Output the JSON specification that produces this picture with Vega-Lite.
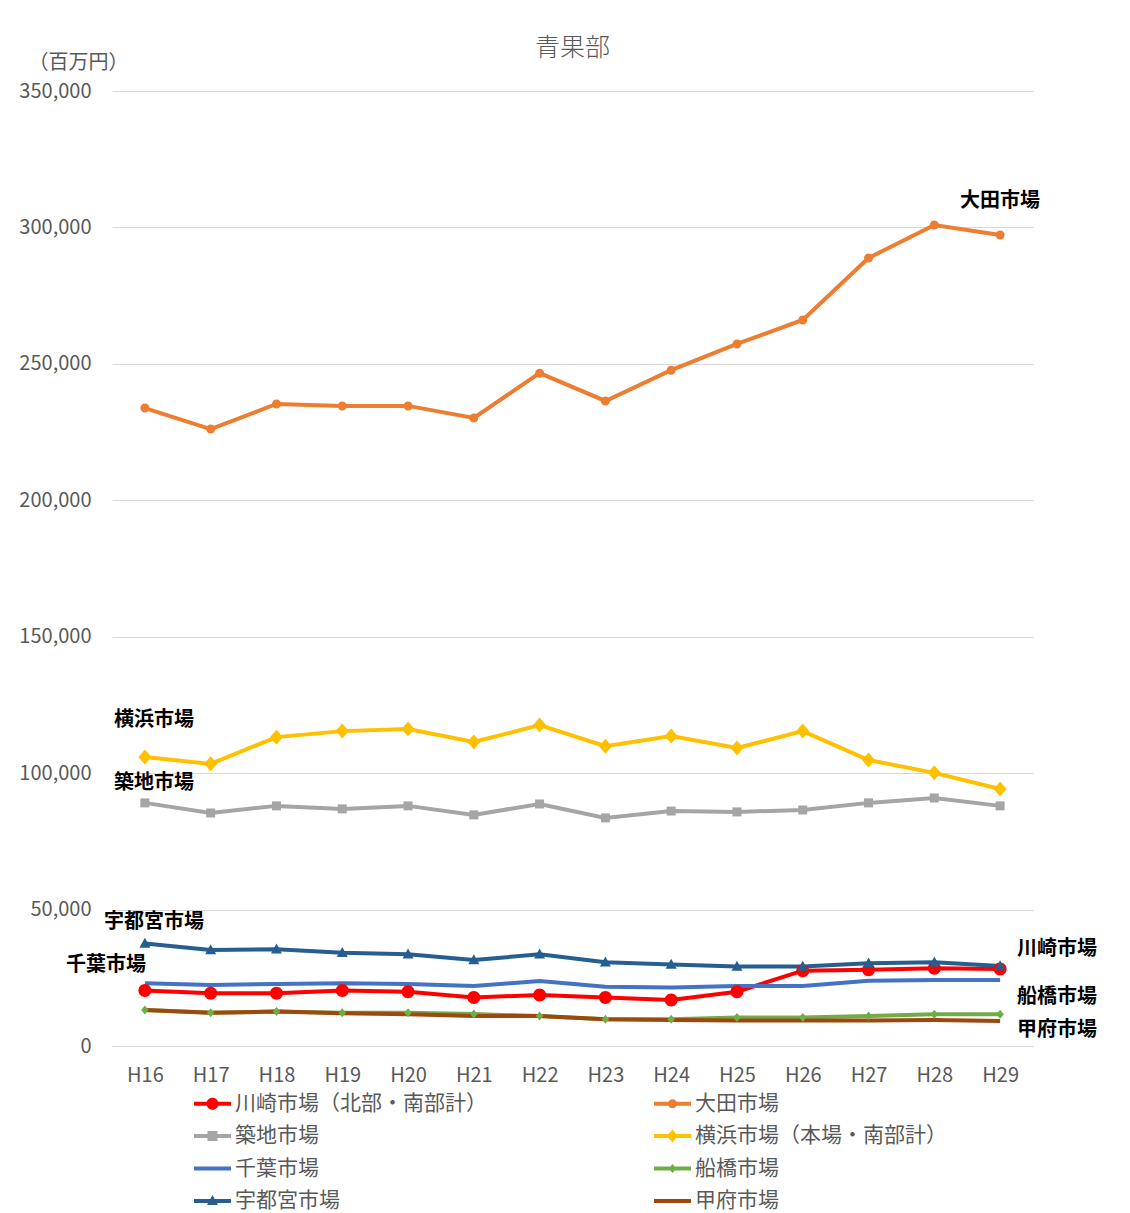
{
  "$schema": "https://vega.github.io/schema/vega-lite/v6.json",
  "width": 921,
  "height": 955,
  "autosize": {"type": "none"},
  "padding": {"left": 112, "top": 91, "right": 97, "bottom": 167},
  "background": "white",
  "title": {"text": "青果部", "fontSize": 25, "fontWeight": 300, "color": "#595959", "baseline": "middle", "offset": -21, "frame": "group"},
  "config": {"view": {"stroke": null}, "font": "Noto Sans CJK JP"},
  "datasets": {
    "main": [
      {"year": "H16", "series": "川崎市場（北部・南部計）", "value": 20300},
      {"year": "H17", "series": "川崎市場（北部・南部計）", "value": 19300},
      {"year": "H18", "series": "川崎市場（北部・南部計）", "value": 19300},
      {"year": "H19", "series": "川崎市場（北部・南部計）", "value": 20300},
      {"year": "H20", "series": "川崎市場（北部・南部計）", "value": 19900},
      {"year": "H21", "series": "川崎市場（北部・南部計）", "value": 17800},
      {"year": "H22", "series": "川崎市場（北部・南部計）", "value": 18700},
      {"year": "H23", "series": "川崎市場（北部・南部計）", "value": 17800},
      {"year": "H24", "series": "川崎市場（北部・南部計）", "value": 16900},
      {"year": "H25", "series": "川崎市場（北部・南部計）", "value": 19900},
      {"year": "H26", "series": "川崎市場（北部・南部計）", "value": 27600},
      {"year": "H27", "series": "川崎市場（北部・南部計）", "value": 27900},
      {"year": "H28", "series": "川崎市場（北部・南部計）", "value": 28500},
      {"year": "H29", "series": "川崎市場（北部・南部計）", "value": 28200},
      {"year": "H16", "series": "大田市場", "value": 233800},
      {"year": "H17", "series": "大田市場", "value": 226100},
      {"year": "H18", "series": "大田市場", "value": 235300},
      {"year": "H19", "series": "大田市場", "value": 234600},
      {"year": "H20", "series": "大田市場", "value": 234600},
      {"year": "H21", "series": "大田市場", "value": 230200},
      {"year": "H22", "series": "大田市場", "value": 246600},
      {"year": "H23", "series": "大田市場", "value": 236400},
      {"year": "H24", "series": "大田市場", "value": 247700},
      {"year": "H25", "series": "大田市場", "value": 257300},
      {"year": "H26", "series": "大田市場", "value": 266100},
      {"year": "H27", "series": "大田市場", "value": 288800},
      {"year": "H28", "series": "大田市場", "value": 300900},
      {"year": "H29", "series": "大田市場", "value": 297200},
      {"year": "H16", "series": "築地市場", "value": 89100},
      {"year": "H17", "series": "築地市場", "value": 85400},
      {"year": "H18", "series": "築地市場", "value": 88000},
      {"year": "H19", "series": "築地市場", "value": 86900},
      {"year": "H20", "series": "築地市場", "value": 88000},
      {"year": "H21", "series": "築地市場", "value": 84700},
      {"year": "H22", "series": "築地市場", "value": 88700},
      {"year": "H23", "series": "築地市場", "value": 83600},
      {"year": "H24", "series": "築地市場", "value": 86100},
      {"year": "H25", "series": "築地市場", "value": 85800},
      {"year": "H26", "series": "築地市場", "value": 86500},
      {"year": "H27", "series": "築地市場", "value": 89100},
      {"year": "H28", "series": "築地市場", "value": 90900},
      {"year": "H29", "series": "築地市場", "value": 88000},
      {"year": "H16", "series": "横浜市場（本場・南部計）", "value": 105900},
      {"year": "H17", "series": "横浜市場（本場・南部計）", "value": 103400},
      {"year": "H18", "series": "横浜市場（本場・南部計）", "value": 113200},
      {"year": "H19", "series": "横浜市場（本場・南部計）", "value": 115400},
      {"year": "H20", "series": "横浜市場（本場・南部計）", "value": 116200},
      {"year": "H21", "series": "横浜市場（本場・南部計）", "value": 111400},
      {"year": "H22", "series": "横浜市場（本場・南部計）", "value": 117600},
      {"year": "H23", "series": "横浜市場（本場・南部計）", "value": 109900},
      {"year": "H24", "series": "横浜市場（本場・南部計）", "value": 113600},
      {"year": "H25", "series": "横浜市場（本場・南部計）", "value": 109200},
      {"year": "H26", "series": "横浜市場（本場・南部計）", "value": 115400},
      {"year": "H27", "series": "横浜市場（本場・南部計）", "value": 104800},
      {"year": "H28", "series": "横浜市場（本場・南部計）", "value": 100100},
      {"year": "H29", "series": "横浜市場（本場・南部計）", "value": 94200},
      {"year": "H16", "series": "千葉市場", "value": 23000},
      {"year": "H17", "series": "千葉市場", "value": 22400},
      {"year": "H18", "series": "千葉市場", "value": 22700},
      {"year": "H19", "series": "千葉市場", "value": 23000},
      {"year": "H20", "series": "千葉市場", "value": 22700},
      {"year": "H21", "series": "千葉市場", "value": 22000},
      {"year": "H22", "series": "千葉市場", "value": 23800},
      {"year": "H23", "series": "千葉市場", "value": 21700},
      {"year": "H24", "series": "千葉市場", "value": 21400},
      {"year": "H25", "series": "千葉市場", "value": 22000},
      {"year": "H26", "series": "千葉市場", "value": 22000},
      {"year": "H27", "series": "千葉市場", "value": 23900},
      {"year": "H28", "series": "千葉市場", "value": 24200},
      {"year": "H29", "series": "千葉市場", "value": 24200},
      {"year": "H16", "series": "船橋市場", "value": 13200},
      {"year": "H17", "series": "船橋市場", "value": 12200},
      {"year": "H18", "series": "船橋市場", "value": 12600},
      {"year": "H19", "series": "船橋市場", "value": 12200},
      {"year": "H20", "series": "船橋市場", "value": 12200},
      {"year": "H21", "series": "船橋市場", "value": 11700},
      {"year": "H22", "series": "船橋市場", "value": 11000},
      {"year": "H23", "series": "船橋市場", "value": 9800},
      {"year": "H24", "series": "船橋市場", "value": 9800},
      {"year": "H25", "series": "船橋市場", "value": 10400},
      {"year": "H26", "series": "船橋市場", "value": 10400},
      {"year": "H27", "series": "船橋市場", "value": 11000},
      {"year": "H28", "series": "船橋市場", "value": 11600},
      {"year": "H29", "series": "船橋市場", "value": 11600},
      {"year": "H16", "series": "宇都宮市場", "value": 37600},
      {"year": "H17", "series": "宇都宮市場", "value": 35200},
      {"year": "H18", "series": "宇都宮市場", "value": 35500},
      {"year": "H19", "series": "宇都宮市場", "value": 34200},
      {"year": "H20", "series": "宇都宮市場", "value": 33600},
      {"year": "H21", "series": "宇都宮市場", "value": 31500},
      {"year": "H22", "series": "宇都宮市場", "value": 33600},
      {"year": "H23", "series": "宇都宮市場", "value": 30700},
      {"year": "H24", "series": "宇都宮市場", "value": 29900},
      {"year": "H25", "series": "宇都宮市場", "value": 29100},
      {"year": "H26", "series": "宇都宮市場", "value": 29100},
      {"year": "H27", "series": "宇都宮市場", "value": 30300},
      {"year": "H28", "series": "宇都宮市場", "value": 30700},
      {"year": "H29", "series": "宇都宮市場", "value": 29300},
      {"year": "H16", "series": "甲府市場", "value": 13200},
      {"year": "H17", "series": "甲府市場", "value": 12200},
      {"year": "H18", "series": "甲府市場", "value": 12600},
      {"year": "H19", "series": "甲府市場", "value": 12000},
      {"year": "H20", "series": "甲府市場", "value": 11600},
      {"year": "H21", "series": "甲府市場", "value": 11000},
      {"year": "H22", "series": "甲府市場", "value": 11000},
      {"year": "H23", "series": "甲府市場", "value": 9800},
      {"year": "H24", "series": "甲府市場", "value": 9500},
      {"year": "H25", "series": "甲府市場", "value": 9300},
      {"year": "H26", "series": "甲府市場", "value": 9300},
      {"year": "H27", "series": "甲府市場", "value": 9300},
      {"year": "H28", "series": "甲府市場", "value": 9500},
      {"year": "H29", "series": "甲府市場", "value": 9200}
    ],
    "labels": [
      {"label": "大田市場", "year": "H29", "value": 309700},
      {"label": "横浜市場", "year": "H16", "value": 119500},
      {"label": "築地市場", "year": "H16", "value": 96400},
      {"label": "宇都宮市場", "year": "H16", "value": 45400},
      {"label": "千葉市場", "year": "H16", "value": 29700},
      {"label": "川崎市場", "year": "H29", "value": 35500},
      {"label": "船橋市場", "year": "H29", "value": 18000},
      {"label": "甲府市場", "year": "H29", "value": 5900}
    ]
  },
  "data": {"name": "main"},
  "encoding": {
    "x": {
      "field": "year", "type": "ordinal",
      "scale": {"type": "point", "padding": 0.5},
      "axis": {"title": null, "labelAngle": 0, "ticks": false, "domain": false, "grid": false, "labelPadding": 19, "labelFontSize": 20, "labelColor": "#595959"}
    },
    "y": {
      "field": "value", "type": "quantitative",
      "scale": {"domain": [0, 350000], "nice": false, "zero": true},
      "axis": {
        "title": "（百万円）", "titleAngle": 0, "titleAlign": "left", "titleBaseline": "middle", "titleX": -84, "titleY": -29,
        "titleFontSize": 20, "titleFontWeight": "normal", "titleColor": "#595959",
        "values": [0, 50000, 100000, 150000, 200000, 250000, 300000, 350000], "format": ",d",
        "ticks": false, "domain": false, "grid": true, "gridColor": "#d9d9d9", "gridWidth": 1,
        "labelPadding": 21, "labelFontSize": 20, "labelColor": "#595959"
      }
    }
  },
  "layer": [
    {
      "mark": {"type": "line", "strokeWidth": 4},
      "encoding": {
        "color": {
          "field": "series", "type": "nominal",
          "scale": {
            "domain": ["川崎市場（北部・南部計）", "大田市場", "築地市場", "横浜市場（本場・南部計）", "千葉市場", "船橋市場", "宇都宮市場", "甲府市場"],
            "range": ["#FF0000", "#ED7D31", "#A5A5A5", "#FFC000", "#4472C4", "#70AD47", "#255E91", "#9E480E"]
          },
          "legend": null
        }
      }
    },
    {
      "transform": [{"filter": {"field": "series", "oneOf": ["川崎市場（北部・南部計）", "大田市場", "築地市場", "横浜市場（本場・南部計）", "船橋市場", "宇都宮市場"]}}],
      "mark": {"type": "point", "filled": true, "opacity": 1, "size": 100, "strokeWidth": 0},
      "encoding": {
        "color": {
          "field": "series", "type": "nominal",
          "scale": {
            "domain": ["川崎市場（北部・南部計）", "大田市場", "築地市場", "横浜市場（本場・南部計）", "船橋市場", "宇都宮市場"],
            "range": ["#FF0000", "#ED7D31", "#A5A5A5", "#FFC000", "#70AD47", "#255E91"]
          },
          "legend": null
        },
        "shape": {
          "field": "series", "type": "nominal",
          "scale": {
            "domain": ["川崎市場（北部・南部計）", "大田市場", "築地市場", "横浜市場（本場・南部計）", "船橋市場", "宇都宮市場"],
            "range": [
              "M-1.3,0A1.3,1.3 0 1,1 1.3,0A1.3,1.3 0 1,1 -1.3,0Z",
              "M-0.9,0A0.9,0.9 0 1,1 0.9,0A0.9,0.9 0 1,1 -0.9,0Z",
              "M-0.9,-0.9H0.9V0.9H-0.9Z",
              "M0,-1.5L1.3,0L0,1.5L-1.3,0Z",
              "M0,-0.9L0.75,0L0,0.9L-0.75,0Z",
              "M0,-1.15L1.1,0.85L-1.1,0.85Z"
            ]
          },
          "legend": null
        }
      }
    },
    {
      "transform": [{"filter": {"field": "series", "equal": "__none__"}}],
      "mark": {"type": "point", "filled": true, "opacity": 1},
      "encoding": {
        "color": {
          "field": "series", "type": "nominal",
          "scale": {
            "domain": ["川崎市場（北部・南部計）", "大田市場", "築地市場", "横浜市場（本場・南部計）", "千葉市場", "船橋市場", "宇都宮市場", "甲府市場"],
            "range": ["#FF0000", "#ED7D31", "#A5A5A5", "#FFC000", "#4472C4", "#70AD47", "#255E91", "#9E480E"]
          },
          "legend": {"title": null, "orient": "none", "direction": "horizontal", "legendX": 90, "legendY": 1002, "columns": 2, "columnPadding": 167, "rowPadding": 10.5, "symbolSize": 400, "symbolStrokeWidth": 0, "symbolOpacity": 1, "labelFontSize": 21, "labelColor": "#595959", "labelLimit": 500, "labelOffset": 12, "padding": 0}
        },
        "shape": {
          "field": "series", "type": "nominal",
          "scale": {
            "domain": ["川崎市場（北部・南部計）", "大田市場", "築地市場", "横浜市場（本場・南部計）", "千葉市場", "船橋市場", "宇都宮市場", "甲府市場"],
            "range": [
              "M-1.85,-0.2H1.85V0.2H-1.85Z M-0.6,0A0.6,0.6 0 1,1 0.6,0A0.6,0.6 0 1,1 -0.6,0Z",
              "M-1.85,-0.2H1.85V0.2H-1.85Z M-0.45,0A0.45,0.45 0 1,1 0.45,0A0.45,0.45 0 1,1 -0.45,0Z",
              "M-1.85,-0.2H1.85V0.2H-1.85Z M-0.5,-0.5H0.5V0.5H-0.5Z",
              "M-1.85,-0.2H1.85V0.2H-1.85Z M0,-0.65L0.55,0L0,0.65L-0.55,0Z",
              "M-1.85,-0.2H1.85V0.2H-1.85Z",
              "M-1.85,-0.2H1.85V0.2H-1.85Z M0,-0.45L0.4,0L0,0.45L-0.4,0Z",
              "M-1.85,-0.2H1.85V0.2H-1.85Z M0,-0.6L0.55,0.4L-0.55,0.4Z",
              "M-1.85,-0.2H1.85V0.2H-1.85Z"
            ]
          },
          "legend": {"title": null, "orient": "none", "direction": "horizontal", "legendX": 90, "legendY": 1002, "columns": 2, "columnPadding": 167, "rowPadding": 10.5, "symbolSize": 400, "symbolStrokeWidth": 0, "symbolOpacity": 1, "labelFontSize": 21, "labelColor": "#595959", "labelLimit": 500, "labelOffset": 12, "padding": 0}
        }
      }
    },
    {
      "data": {"name": "labels"},
      "transform": [{"filter": {"field": "label", "oneOf": ["川崎市場", "船橋市場", "甲府市場"]}}],
      "mark": {"type": "text", "align": "left", "baseline": "middle", "dx": 17, "fontSize": 20, "fontWeight": "bold", "color": "#000000"},
      "encoding": {"text": {"field": "label", "type": "nominal"}}
    },
    {
      "data": {"name": "labels"},
      "transform": [{"filter": {"field": "label", "oneOf": ["横浜市場", "築地市場", "宇都宮市場"]}}],
      "mark": {"type": "text", "align": "center", "baseline": "middle", "dx": 9, "fontSize": 20, "fontWeight": "bold", "color": "#000000"},
      "encoding": {"text": {"field": "label", "type": "nominal"}}
    },
    {
      "data": {"name": "labels"},
      "transform": [{"filter": {"field": "label", "equal": "千葉市場"}}],
      "mark": {"type": "text", "align": "right", "baseline": "middle", "dx": 1, "fontSize": 20, "fontWeight": "bold", "color": "#000000"},
      "encoding": {"text": {"field": "label", "type": "nominal"}}
    },
    {
      "data": {"name": "labels"},
      "transform": [{"filter": {"field": "label", "equal": "大田市場"}}],
      "mark": {"type": "text", "align": "center", "baseline": "middle", "dx": 0, "fontSize": 20, "fontWeight": "bold", "color": "#000000"},
      "encoding": {"text": {"field": "label", "type": "nominal"}}
    }
  ],
  "resolve": {"scale": {"color": "independent", "shape": "independent"}}
}
